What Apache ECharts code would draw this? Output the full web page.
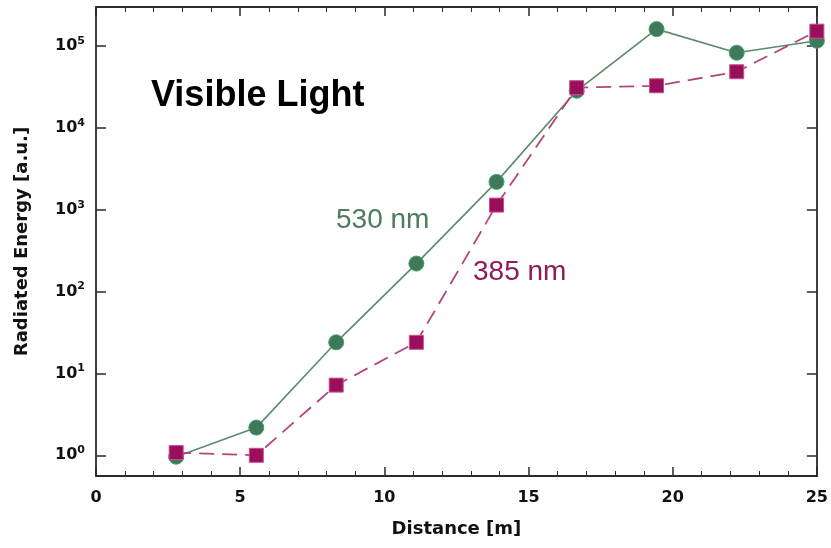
<!DOCTYPE html>
<html>
<head>
<meta charset="utf-8">
<script src="https://cdn.jsdelivr.net/npm/echarts@6/dist/echarts.min.js"></script>
<style>
  html, body { margin: 0; padding: 0; background: #fff; }
  #chart { width: 831px; height: 548px; }
</style>
</head>
<body>
<div id="chart"></div>
<script>
// Distance along the path [m]
const distance = [2.78, 5.56, 8.33, 11.11, 13.89, 16.67, 19.44, 22.22, 25];
// Radiated energy [a.u.] per wavelength
const energy530 = [0.96, 2.18, 24, 220, 2190, 28400, 161000, 82800, 116000];
const energy385 = [1.08, 1.0, 7.2, 24, 1140, 31000, 32700, 48500, 152000];
// Axis settings
const xTicks = { min: 0, max: 25, interval: 5 };
const yRange = { min: Math.pow(10, -0.253), max: Math.pow(10, 5.477) };

const AXIS_FONT = '"DejaVu Sans", sans-serif';
const frameLine = { show: true, onZero: false, lineStyle: { color: '#2a2a2a', width: 1.8 } };

function pairs(xs, ys) {
  return xs.map((x, i) => [x, ys[i]]);
}

function powerLabel(v) {
  const e = Math.log10(v);
  const r = Math.round(e);
  if (Math.abs(e - r) > 1e-6) return '';
  return '{b|10}{s|' + r + '}';
}

const chart = echarts.init(document.getElementById('chart'), null, { renderer: 'canvas' });

const xCommon = {
  type: 'value',
  min: xTicks.min,
  max: xTicks.max,
  interval: xTicks.interval,
  axisLine: frameLine,
  axisTick: { show: true, inside: true, length: 9, lineStyle: { color: '#2a2a2a', width: 1.5 } },
  minorTick: { show: true, splitNumber: 5, length: 5, lineStyle: { color: '#2a2a2a', width: 1 } },
  splitLine: { show: false },
  minorSplitLine: { show: false }
};

const yCommon = {
  type: 'log',
  logBase: 10,
  min: yRange.min,
  max: yRange.max,
  axisLine: frameLine,
  axisTick: { show: true, inside: true, length: 10, lineStyle: { color: '#2a2a2a', width: 1.5 } },
  splitLine: { show: false }
};

chart.setOption({
  animation: false,
  backgroundColor: '#ffffff',
  grid: { left: 96, right: 14, top: 7, bottom: 72, containLabel: false },
  xAxis: [
    Object.assign({}, xCommon, {
      position: 'bottom',
      name: 'Distance [m]',
      nameLocation: 'middle',
      nameGap: 44,
      nameTextStyle: { fontFamily: AXIS_FONT, fontWeight: 'bold', fontSize: 18, color: '#111' },
      axisLabel: {
        show: true, margin: 14, showMinLabel: true, showMaxLabel: true,
        fontFamily: AXIS_FONT, fontWeight: 'bold', fontSize: 16, color: '#111'
      }
    }),
    Object.assign({}, xCommon, { position: 'top', axisLabel: { show: false } })
  ],
  yAxis: [
    Object.assign({}, yCommon, {
      position: 'left',
      name: 'Radiated Energy [a.u.]',
      nameLocation: 'middle',
      nameGap: 65,
      nameTextStyle: { fontFamily: AXIS_FONT, fontWeight: 'bold', fontSize: 18, color: '#111' },
      axisLabel: {
        show: true, margin: 11,
        formatter: powerLabel,
        rich: {
          b: { fontFamily: AXIS_FONT, fontWeight: 'bold', fontSize: 16, color: '#111', lineHeight: 21 },
          s: { fontFamily: AXIS_FONT, fontWeight: 'bold', fontSize: 11, color: '#111', lineHeight: 12, verticalAlign: 'top' }
        }
      }
    }),
    Object.assign({}, yCommon, { position: 'right', axisLabel: { show: false } })
  ],
  series: [
    {
      name: '530 nm',
      type: 'line',
      xAxisIndex: 0,
      yAxisIndex: 0,
      data: pairs(distance, energy530),
      clip: false,
      symbol: 'circle',
      symbolSize: 15,
      lineStyle: { color: '#5b8a6c', width: 1.6 },
      itemStyle: { color: '#40785a', borderColor: '#3fa56e', borderWidth: 1 },
      z: 3
    },
    {
      name: '385 nm',
      type: 'line',
      xAxisIndex: 0,
      yAxisIndex: 0,
      data: pairs(distance, energy385),
      clip: false,
      symbol: 'rect',
      symbolSize: 14,
      lineStyle: { color: '#b4447a', width: 1.8, type: [15, 8] },
      itemStyle: { color: '#9a0f5c', borderColor: '#c6508a', borderWidth: 1 },
      z: 4
    }
  ],
  graphic: [
    {
      type: 'text', left: 151, top: 78, z: 10,
      style: { text: 'Visible Light', font: 'bold 36px "Liberation Sans", Arial, sans-serif', fill: '#000' }
    },
    {
      type: 'text', left: 336, top: 206, z: 10,
      style: { text: '530 nm', font: '28px "Liberation Sans", Arial, sans-serif', fill: '#4d7d5d' }
    },
    {
      type: 'text', left: 473, top: 258, z: 10,
      style: { text: '385 nm', font: '28px "Liberation Sans", Arial, sans-serif', fill: '#8e1c57' }
    }
  ]
});
</script>
</body>
</html>
